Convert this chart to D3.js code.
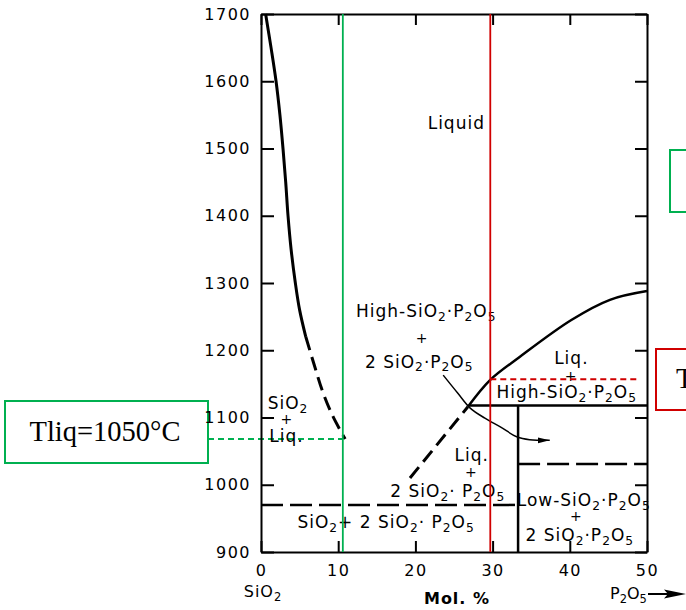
<!DOCTYPE html>
<html><head><meta charset="utf-8">
<script src="https://cdn.jsdelivr.net/npm/d3@7"></script>
<style>
body{margin:0;background:#fff;}
svg{display:block;overflow:hidden;}
text{font-family:"DejaVu Sans",sans-serif;fill:#000;}
</style></head><body>
<svg id="chart" width="686" height="610"></svg>
<script>
// ---- data (mol % P2O5, temperature °C) ----
const tempTicks = [900,1000,1100,1200,1300,1400,1500,1600,1700];
const molTicks = [0,10,20,30,40,50];
const sio2LiquidusSolid = [[0.6,1700],[1.3,1650],[1.95,1600],[2.45,1550],[2.85,1500],[3.2,1450],[3.5,1400],[3.9,1350],[4.45,1300],[5.0,1260],[5.8,1220]];
const sio2LiquidusDashed = [[5.8,1220],[6.9,1178],[8.0,1138],[9.3,1102],[10.9,1068]];
const highLiquidusDashed = [[19.3,1010],[26.8,1116]];
const highLiquidusSolid = [[26.8,1116],[29.7,1156],[33.5,1190],[40.2,1245],[45.2,1275],[50,1288]];
const arrowCurve = [[23.6,1163],[25.5,1136],[27.1,1114],[29.0,1099],[31.0,1086],[33.2,1071],[34.8,1067],[37.4,1066]];
const solidHLines = [[27,50,1118]];
const solidVLines = [[33.3,900,1118]];
const dashedHLines = [[0,33.3,970],[33.3,50,1031]];
const greenComposition = 10.6;
const redComposition = 29.7;
const greenTliq = 1068;
const redTliq = 1157;
const redDashEnd = 48.8;
const leftBoxLabel = "Tliq=1050°C";
const rightRedBoxLabel = "Tliq=1157°C";
const regionLabels = [
  {t:"Liquid", x:25.3, T:1529},
  {t:"High-SiO_2\u00b7P_2O_5", x:21.4, T:1249},
  {t:"+", x:20.8, T:1211},
  {t:"2 SiO_2\u00b7P_2O_5", x:20.5, T:1174},
  {t:"SiO_2", x:3.5, T:1112},
  {t:"+", x:3.3, T:1090},
  {t:"Liq.", x:3.3, T:1064},
  {t:"Liq.", x:27.3, T:1035},
  {t:"+", x:27.2, T:1011},
  {t:"2 SiO_2\u00b7 P_2O_5", x:24.2, T:982},
  {t:"SiO_2+ 2 SiO_2\u00b7 P_2O_5", x:16.2, T:936},
  {t:"Liq.", x:40.2, T:1179},
  {t:"+", x:40.1, T:1155},
  {t:"High-SiO_2\u00b7P_2O_5", x:39.6, T:1129},
  {t:"Low-SiO_2\u00b7P_2O_5", x:41.8, T:968},
  {t:"+", x:40.8, T:946},
  {t:"2 SiO_2\u00b7P_2O_5", x:41.3, T:916}
];

// ---- layout ----
const svg = d3.select("#chart");
const x = d3.scaleLinear().domain([0,50]).range([261,647]);
const y = d3.scaleLinear().domain([900,1700]).range([552,14]);
const GREEN = "#00b050", RED = "#d00000";

function richText(g, str, px, py, size, ls, anchor) {
  const t = g.append("text").attr("x", px).attr("y", py)
    .attr("text-anchor", anchor || "middle")
    .style("font-size", size + "px").style("letter-spacing", ls + "px");
  const shift = size * 0.22;
  let inSub = false;
  str.split(/(_\d)/).filter(s => s.length).forEach(p => {
    if (p[0] === "_") {
      t.append("tspan").attr("dy", shift).style("font-size", (size*0.72)+"px").text(p.slice(1));
      inSub = true;
    } else {
      const ts = t.append("tspan").text(p);
      if (inSub) { ts.attr("dy", -shift); inSub = false; }
    }
  });
  return t;
}

// Tliq box on the left (drawn first, no fill, so tick labels stay visible)
svg.append("line").attr("x1",208).attr("x2",x(greenComposition)).attr("y1",y(greenTliq)).attr("y2",y(greenTliq))
  .attr("stroke",GREEN).attr("stroke-width",2).attr("stroke-dasharray","6,4");
svg.append("rect").attr("x",5).attr("y",401).attr("width",203).attr("height",62)
  .attr("fill","none").attr("stroke",GREEN).attr("stroke-width",2);
svg.append("text").attr("x",105).attr("y",441).attr("text-anchor","middle")
  .style("font-family","'Liberation Serif','Times New Roman',serif").style("font-size","28.5px").text(leftBoxLabel);

// axes
const axisStyle = g => {
  g.selectAll("path.domain").attr("stroke","#000").attr("stroke-width",2);
  g.selectAll(".tick line").attr("stroke","#000").attr("stroke-width",2);
  g.selectAll(".tick text").style("font-family","'DejaVu Sans',sans-serif")
    .style("font-size","16px").style("letter-spacing","1.5px").attr("fill","#000");
};
svg.append("g").attr("transform","translate(261,0)")
  .call(d3.axisLeft(y).tickValues(tempTicks).tickSize(-13).tickSizeOuter(0).tickPadding(10).tickFormat(d3.format("d")))
  .call(axisStyle);
svg.append("g").attr("transform","translate(647,0)")
  .call(d3.axisRight(y).tickValues(tempTicks).tickSize(-12).tickSizeOuter(0).tickFormat(""))
  .call(axisStyle);
svg.append("g").attr("transform","translate(0,552)")
  .call(d3.axisBottom(x).tickValues(molTicks).tickSize(-11).tickSizeOuter(0).tickPadding(13).tickFormat(d3.format("d")))
  .call(axisStyle);
svg.append("g").attr("transform","translate(0,14)")
  .call(d3.axisTop(x).tickValues(molTicks).tickSize(-11).tickSizeOuter(0).tickFormat(""))
  .call(axisStyle);

// axis titles
richText(svg, "SiO_2", 263, 597, 16, 1);
svg.append("text").attr("x", 457).attr("y", 604).attr("text-anchor","middle")
  .style("font-size","16px").style("font-weight","bold").style("letter-spacing","1px").text("Mol. %");
richText(svg, "P_2O_5", 610, 599, 16, 0, "start");
svg.append("line").attr("x1", 648).attr("x2", 670).attr("y1", 594).attr("y2", 594)
  .attr("stroke","#000").attr("stroke-width",2);
svg.append("path").attr("d","M664,589.5 L686,594 L664,598.5 L668,594 Z").attr("fill","#000");

// phase boundaries
const line = d3.line().x(d => x(d[0])).y(d => y(d[1])).curve(d3.curveCatmullRom.alpha(0.5));
const plot = svg.append("g");
plot.append("path").attr("d", line(sio2LiquidusSolid)).attr("fill","none").attr("stroke","#000").attr("stroke-width",3);
plot.append("path").attr("d", line(sio2LiquidusDashed)).attr("fill","none").attr("stroke","#000").attr("stroke-width",3).attr("stroke-dasharray","14,7");
plot.append("path").attr("d", line(highLiquidusDashed)).attr("fill","none").attr("stroke","#000").attr("stroke-width",3).attr("stroke-dasharray","14,7");
plot.append("path").attr("d", line(highLiquidusSolid)).attr("fill","none").attr("stroke","#000").attr("stroke-width",2.5);

solidHLines.forEach(d => plot.append("line").attr("x1",x(d[0])).attr("x2",x(d[1])).attr("y1",y(d[2])).attr("y2",y(d[2])).attr("stroke","#000").attr("stroke-width",2.5));
solidVLines.forEach(d => plot.append("line").attr("x1",x(d[0])).attr("x2",x(d[0])).attr("y1",y(d[1])).attr("y2",y(d[2])).attr("stroke","#000").attr("stroke-width",2.5));
dashedHLines.forEach(d => plot.append("line").attr("x1",x(d[0])).attr("x2",x(d[1])).attr("y1",y(d[2])).attr("y2",y(d[2])).attr("stroke","#000").attr("stroke-width",2.5).attr("stroke-dasharray","22,7"));

// arrow curve
svg.append("defs").append("marker").attr("id","ah").attr("viewBox","0 0 12 8")
  .attr("refX",12).attr("refY",4).attr("markerWidth",12).attr("markerHeight",8)
  .attr("markerUnits","userSpaceOnUse").attr("orient","auto")
  .append("path").attr("d","M0,1 L12,4 L0,7 Z").attr("fill","#000");
plot.append("path").attr("d", line(arrowCurve)).attr("fill","none").attr("stroke","#000").attr("stroke-width",1.5).attr("marker-end","url(#ah)");

// labels
regionLabels.forEach(d => richText(plot, d.t, x(d.x), y(d.T), d.t === "+" ? 14 : 17, d.t === "+" ? 0 : 1));

// composition lines
svg.append("line").attr("x1",x(greenComposition)).attr("x2",x(greenComposition)).attr("y1",y(900)).attr("y2",y(1700)).attr("stroke",GREEN).attr("stroke-width",1.8);
svg.append("line").attr("x1",x(redComposition)).attr("x2",x(redComposition)).attr("y1",y(900)).attr("y2",y(1700)).attr("stroke",RED).attr("stroke-width",1.8);

// right-hand annotations (cut by the page edge, as in the reference)
svg.append("line").attr("x1",x(redComposition)).attr("x2",x(redDashEnd)).attr("y1",y(redTliq)).attr("y2",y(redTliq))
  .attr("stroke",RED).attr("stroke-width",2).attr("stroke-dasharray","6,4");
svg.append("rect").attr("x",656).attr("y",349).attr("width",60).attr("height",61)
  .attr("fill","#fff").attr("stroke",RED).attr("stroke-width",2);
svg.append("text").attr("x",676).attr("y",388)
  .style("font-family","'Liberation Serif','Times New Roman',serif").style("font-size","28.5px").text(rightRedBoxLabel);
svg.append("rect").attr("x",670).attr("y",150).attr("width",40).attr("height",62)
  .attr("fill","#fff").attr("stroke",GREEN).attr("stroke-width",2);
</script>
</body></html>
